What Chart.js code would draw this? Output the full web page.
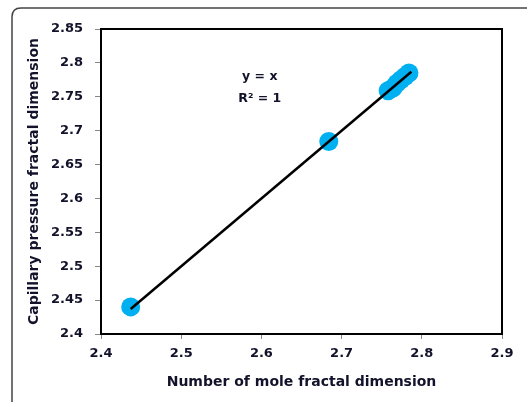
<!DOCTYPE html>
<html>
<head>
<meta charset="utf-8">
<script src="https://cdn.jsdelivr.net/npm/chart.js@4"></script>
<style>
html,body{margin:0;padding:0;background:#fff;}
#wrap{width:527px;height:402px;position:relative;}
</style>
</head>
<body>
<div id="wrap"><canvas id="c" width="527" height="402"></canvas></div>
<script>
// Data
const moleFD = [2.437, 2.684, 2.758, 2.764, 2.769, 2.774, 2.779, 2.784];
const capFD  = [2.440, 2.684, 2.759, 2.763, 2.770, 2.775, 2.780, 2.785];
const fitX = [2.437, 2.787];
const fitY = [2.437, 2.787];
const xTickLabels = ['2.4','2.5','2.6','2.7','2.8','2.9'];
const yTickLabels = ['2.4','2.45','2.5','2.55','2.6','2.65','2.7','2.75','2.8','2.85'];
const equationLines = ['y = x', 'R² = 1'];
const equationAt = [2.598, 2.780];

const FONT = 'DejaVu Sans';
const TXT = '#12122a';

const framePlugin = {
  id: 'frame',
  beforeDraw(chart) {
    const ctx = chart.ctx;
    ctx.save();
    ctx.strokeStyle = '#444';
    ctx.lineWidth = 1.5;
    ctx.beginPath();
    ctx.moveTo(12, 402);
    ctx.lineTo(12, 17);
    ctx.quadraticCurveTo(12, 8, 21, 8);
    ctx.lineTo(527, 8);
    ctx.stroke();
    ctx.restore();
  },
  beforeDatasetsDraw(chart) {
    const a = chart.chartArea, ctx = chart.ctx;
    ctx.save();
    ctx.strokeStyle = '#000';
    ctx.lineWidth = 2;
    ctx.strokeRect(a.left, a.top, a.right - a.left, a.bottom - a.top);
    ctx.restore();
  },
  afterDatasetsDraw(chart) {
    const ctx = chart.ctx;
    const xs = chart.scales.x, ys = chart.scales.y;
    const cx = xs.getPixelForValue(equationAt[0]);
    const cy = ys.getPixelForValue(equationAt[1]);
    ctx.save();
    ctx.fillStyle = TXT;
    ctx.font = 'bold 12.5px ' + FONT;
    ctx.textAlign = 'center';
    ctx.textBaseline = 'middle';
    equationLines.forEach((t, i) => ctx.fillText(t, cx, cy + i * 22));
    ctx.restore();
  }
};

new Chart(document.getElementById('c'), {
  type: 'scatter',
  data: {
    datasets: [
      {
        type: 'line',
        data: fitX.map((x, i) => ({x, y: fitY[i]})),
        borderColor: '#000',
        borderWidth: 2.5,
        pointRadius: 0,
        fill: false,
        order: 0
      },
      {
        data: moleFD.map((x, i) => ({x, y: capFD[i]})),
        backgroundColor: '#00B0F0',
        borderColor: '#00B0F0',
        borderWidth: 0,
        pointRadius: 9.5,
        order: 1
      }
    ]
  },
  options: {
    responsive: false,
    animation: false,
    events: [],
    layout: {padding: {left: 14, top: 29, right: 25, bottom: 0}},
    plugins: {legend: {display: false}, tooltip: {enabled: false}},
    scales: {
      x: {
        type: 'linear', min: 2.4, max: 2.9,
        afterFit(s) { s.height = 68; },
        ticks: {
          stepSize: 0.1, color: TXT, padding: 7,
          font: {family: FONT, size: 13, weight: 'bold'},
          callback: (v) => { const i = Math.round((v - 2.4) / 0.1); return xTickLabels[i]; }
        },
        grid: {drawOnChartArea: false, drawTicks: true, tickLength: 5, color: '#888'},
        border: {display: false},
        title: {display: true, text: 'Number of mole fractal dimension', color: TXT,
          font: {family: FONT, size: 14, weight: 'bold'}, padding: {top: 4, bottom: 11}}
      },
      y: {
        type: 'linear', min: 2.4, max: 2.85,
        afterFit(s) { s.width = 87; },
        ticks: {
          stepSize: 0.05, color: TXT, padding: 12,
          font: {family: FONT, size: 13, weight: 'bold'},
          callback: (v) => { const i = Math.round((v - 2.4) / 0.05); return yTickLabels[i]; }
        },
        grid: {drawOnChartArea: false, drawTicks: true, tickLength: 6, color: '#888'},
        border: {display: false},
        title: {display: true, text: 'Capillary pressure fractal dimension', color: TXT,
          font: {family: FONT, size: 14, weight: 'bold'}, padding: {top: 12, bottom: 0}}
      }
    }
  },
  plugins: [framePlugin]
});
</script>
</body>
</html>
